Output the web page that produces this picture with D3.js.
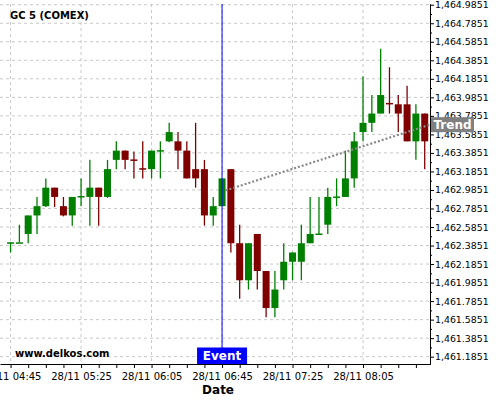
<!DOCTYPE html>
<html>
<head>
<meta charset="utf-8">
<script src="https://cdn.jsdelivr.net/npm/d3@7"></script>
<style>
body { margin: 0; background: #fff; }
svg { display: block; font-family: "DejaVu Sans", sans-serif; }
.grid line { stroke: #c8c8c8; stroke-dasharray: 3,3; }
.axis path, .axis line { stroke: #000; }
</style>
</head>
<body>
<script>
// 5 minute candles, 28/11
var times = ['04:45', '04:50', '04:55', '05:00', '05:05', '05:10', '05:15', '05:20',
  '05:25', '05:30', '05:35', '05:40', '05:45', '05:50', '05:55', '06:00',
  '06:05', '06:10', '06:15', '06:20', '06:25', '06:30', '06:35', '06:40',
  '06:45', '06:50', '06:55', '07:00', '07:05', '07:10', '07:15', '07:20',
  '07:25', '07:30', '07:35', '07:40', '07:45', '07:50', '07:55', '08:00',
  '08:05', '08:10', '08:15', '08:20', '08:25', '08:30', '08:35', '08:40']

var open = [1462.42, 1462.42, 1462.51, 1462.71, 1462.81, 1463.01, 1462.81, 1462.71,
  1462.92, 1462.91, 1463.01, 1462.91, 1463.31, 1463.41, 1463.315, 1463.22,
  1463.21, 1463.41, 1463.51, 1463.51, 1463.41, 1463.21, 1463.21, 1462.71,
  1462.81, 1463.21, 1462.41, 1462.01, 1462.51, 1462.11, 1461.71, 1462.01,
  1462.21, 1462.21, 1462.41, 1462.51, 1462.61, 1462.91, 1462.91, 1463.11,
  1463.61, 1463.71, 1463.81, 1463.925, 1463.91, 1463.91, 1463.51, 1463.81]

var high = [1462.42, 1462.61, 1462.71, 1462.91, 1463.11, 1463.01, 1462.91, 1462.91,
  1463.11, 1463.31, 1463.01, 1463.31, 1463.51, 1463.41, 1463.40, 1463.51,
  1463.41, 1463.51, 1463.71, 1463.61, 1463.51, 1463.71, 1463.31, 1462.91,
  1463.11, 1463.21, 1462.61, 1462.41, 1462.51, 1462.11, 1462.11, 1462.41,
  1462.31, 1462.61, 1462.91, 1462.91, 1463.01, 1463.11, 1463.41, 1463.61,
  1464.21, 1464.01, 1464.51, 1464.31, 1464.01, 1464.11, 1463.91, 1463.81]

var low = [1462.31, 1462.42, 1462.41, 1462.51, 1462.80, 1462.80, 1462.70, 1462.60,
  1462.81, 1462.60, 1462.60, 1462.90, 1463.21, 1463.21, 1463.11, 1463.11,
  1463.11, 1463.11, 1463.50, 1463.21, 1463.11, 1463.01, 1462.60, 1462.60,
  1462.81, 1462.31, 1461.81, 1461.91, 1461.91, 1461.61, 1461.61, 1461.91,
  1462.01, 1462.01, 1462.41, 1462.51, 1462.51, 1462.81, 1462.91, 1463.01,
  1463.51, 1463.61, 1463.81, 1463.81, 1463.61, 1463.51, 1463.31, 1463.21]

var close = [1462.42, 1462.42, 1462.71, 1462.81, 1463.01, 1462.91, 1462.71, 1462.91,
  1462.92, 1463.01, 1462.91, 1463.21, 1463.41, 1463.31, 1463.31, 1463.215,
  1463.41, 1463.415, 1463.61, 1463.41, 1463.11, 1463.11, 1462.71, 1462.81,
  1463.11, 1462.41, 1462.01, 1462.41, 1462.11, 1461.71, 1461.91, 1462.21,
  1462.31, 1462.41, 1462.51, 1462.515, 1462.91, 1462.915, 1463.11, 1463.51,
  1463.71, 1463.81, 1464.01, 1463.92, 1463.81, 1463.51, 1463.81, 1463.51]

var xLabels = ['04:45', '05:25', '06:05', '06:45', '07:25', '08:05']

var yTicks = [1461.1851, 1461.3851, 1461.5851, 1461.7851, 1461.9851,
  1462.1851, 1462.3851, 1462.5851, 1462.7851, 1462.9851,
  1463.1851, 1463.3851, 1463.5851, 1463.7851, 1463.9851,
  1464.1851, 1464.3851, 1464.5851, 1464.7851, 1464.9851]

var eventTime = '06:45'
var trendTimes = ['06:47', '08:43']
var trendValues = [1462.98, 1463.69]

var margin = { top: 4, right: 70, bottom: 36, left: 0 }
var width = 500 - margin.left - margin.right
var height = 400 - margin.top - margin.bottom

var parse = d3.timeParse('%Y-%m-%d %H:%M')
function t (s) { return parse('2014-11-28 ' + s) }

var x = d3.scaleTime()
  .domain([t('04:39'), t('08:43')])
  .range([0, width])

var y = d3.scaleLinear()
  .domain([1461.106, 1464.993])
  .range([height, 0])

var svg = d3.select('body').append('svg')
  .attr('width', 500)
  .attr('height', 400)
  .append('g')
  .attr('transform', 'translate(' + margin.left + ',' + margin.top + ')')

// grid
svg.append('g').attr('class', 'grid')
  .selectAll('line.h').data(yTicks).enter().append('line')
  .attr('x1', 0).attr('x2', width)
  .attr('y1', function (d) { return y(d) }).attr('y2', function (d) { return y(d) })

svg.append('g').attr('class', 'grid')
  .selectAll('line.v').data(xLabels).enter().append('line')
  .attr('x1', function (d) { return x(t(d)) }).attr('x2', function (d) { return x(t(d)) })
  .attr('y1', 0).attr('y2', height)

// candles
var data = times.map(function (d, i) {
  return { t: t(d), o: open[i], h: high[i], l: low[i], c: close[i] }
})
var bw = 7

var candle = svg.append('g').selectAll('g').data(data).enter().append('g')
  .attr('fill', function (d) { return d.c >= d.o ? '#008000' : '#800000' })
  .attr('stroke', function (d) { return d.c >= d.o ? '#008000' : '#800000' })

candle.append('line')
  .attr('x1', function (d) { return x(d.t) }).attr('x2', function (d) { return x(d.t) })
  .attr('y1', function (d) { return y(d.h) }).attr('y2', function (d) { return y(d.l) })
  .attr('stroke-width', 1.3)

candle.append('rect')
  .attr('stroke', 'none')
  .attr('x', function (d) { return x(d.t) - bw / 2 })
  .attr('width', bw)
  .attr('y', function (d) { return y(Math.max(d.o, d.c)) })
  .attr('height', function (d) { return Math.max(1.5, Math.abs(y(d.o) - y(d.c))) })

// trend
svg.append('line')
  .attr('x1', x(t(trendTimes[0]))).attr('y1', y(trendValues[0]))
  .attr('x2', x(t(trendTimes[1]))).attr('y2', y(trendValues[1]))
  .attr('stroke', '#888').attr('stroke-width', 2.2)
  .attr('stroke-dasharray', '2,2')

// event
var ex = x(t(eventTime))
svg.append('line')
  .attr('x1', ex).attr('x2', ex).attr('y1', 0).attr('y2', height)
  .attr('stroke', '#0000ff').attr('stroke-width', 1)

svg.append('rect')
  .attr('x', ex - 25).attr('y', height - 16.5)
  .attr('width', 50).attr('height', 16.5)
  .attr('fill', '#0000ff')

svg.append('text')
  .attr('x', ex).attr('y', height - 4)
  .attr('text-anchor', 'middle')
  .attr('fill', '#fff').attr('font-weight', 'bold').attr('font-size', 12)
  .text('Event')

// axes
svg.append('g')
  .attr('class', 'axis')
  .attr('transform', 'translate(0,' + height + ')')
  .call(d3.axisBottom(x)
    .tickValues(times.filter(function (d, i) { return i % 2 === 0 }).map(t))
    .tickSize(4)
    .tickSizeOuter(0)
    .tickPadding(5)
    .tickFormat(function (d) {
      var s = d3.timeFormat('%H:%M')(d)
      return xLabels.indexOf(s) >= 0 ? d3.timeFormat('%d/%m %H:%M')(d) : ''
    }))
  .call(function (g) { g.selectAll('text').attr('font-size', 10).attr('font-family', 'DejaVu Sans').attr('fill', '#000') })

svg.append('g')
  .attr('class', 'axis')
  .attr('transform', 'translate(' + width + ',0)')
  .call(d3.axisRight(y)
    .tickValues(yTicks.map(function (d) { return d + 0.1 }).filter(function (d) { return d < 1464.99 }))
    .tickSize(2)
    .tickSizeOuter(0)
    .tickFormat(''))

svg.append('g')
  .attr('class', 'axis')
  .attr('transform', 'translate(' + width + ',0)')
  .call(d3.axisRight(y)
    .tickValues(yTicks)
    .tickSize(4)
    .tickSizeOuter(0)
    .tickPadding(1)
    .tickFormat(d3.format(',.4f')))
  .call(function (g) { g.selectAll('text').attr('font-size', 9.4).attr('font-family', 'DejaVu Sans').attr('fill', '#000') })

// trend label
var ty = y(trendValues[1])
svg.append('rect')
  .attr('x', width + 1).attr('y', ty - 7.5)
  .attr('width', 43).attr('height', 15)
  .attr('fill', '#808080')
svg.append('text')
  .attr('x', width + 22.5).attr('y', ty + 4.5)
  .attr('text-anchor', 'middle')
  .attr('fill', '#fff').attr('font-weight', 'bold').attr('font-size', 12)
  .text('Trend')

// titles
svg.append('text')
  .attr('x', 10).attr('y', 15.3)
  .attr('font-weight', 'bold').attr('font-size', 10)
  .text('GC 5 (COMEX)')

svg.append('text')
  .attr('x', 15).attr('y', height - 6.7)
  .attr('font-weight', 'bold').attr('font-size', 10)
  .text('www.delkos.com')

svg.append('text')
  .attr('x', ex - 4).attr('y', height + 30)
  .attr('text-anchor', 'middle')
  .attr('font-weight', 'bold').attr('font-size', 12)
  .text('Date')
</script>
</body>
</html>
